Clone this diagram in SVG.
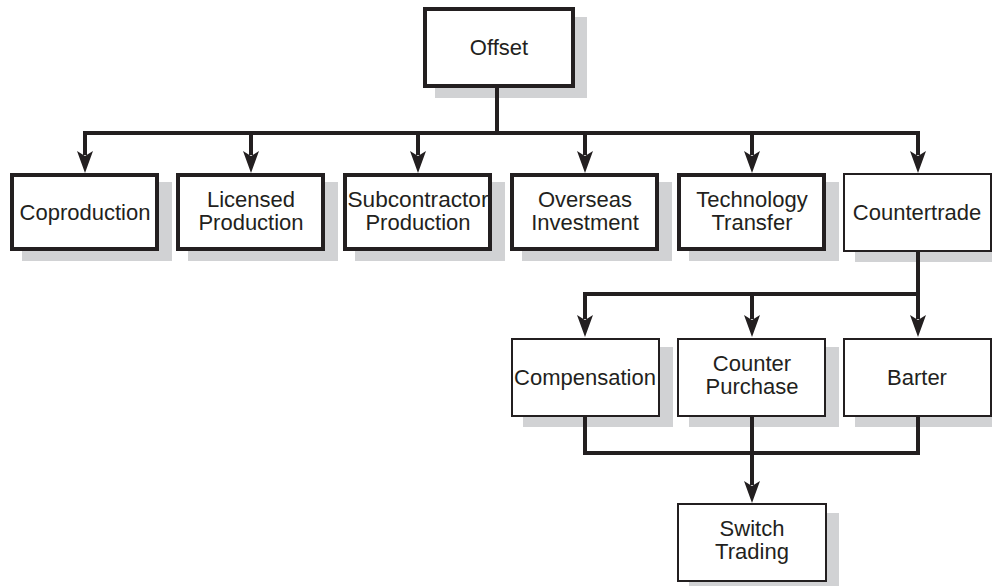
<svg xmlns="http://www.w3.org/2000/svg" width="992" height="586" viewBox="0 0 992 586">
<style>
.sh{fill:#d1d2d4}
.bx{fill:#fff;stroke:#231f20}
.tk{stroke-width:4}
.tn{stroke-width:2}
text{font-family:"Liberation Sans",Arial,sans-serif;font-size:22px;fill:#231f20;text-anchor:middle}
.cn{fill:none;stroke:#231f20;stroke-width:4;stroke-linejoin:miter;stroke-linecap:butt}
</style>
<defs>
<marker id="ah" markerUnits="userSpaceOnUse" markerWidth="26" markerHeight="20" viewBox="0 -10 26 20" refX="4" refY="0" orient="auto">
<path d="M22,0 L0,-8 L5,0 L0,8 Z" fill="#231f20"/>
</marker>
</defs>
<rect width="992" height="586" fill="#fff"/>

<g id="offset">
<rect class="sh" x="435" y="17" width="152" height="81"/>
<rect class="bx tk" x="425" y="9" width="148" height="77"/>
<text x="499" y="55">Offset</text>
</g>

<g id="coproduction">
<rect class="sh" x="22" y="182" width="150" height="79"/>
<rect class="bx tk" x="12" y="175" width="145" height="74"/>
<text x="85" y="220">Coproduction</text>
</g>
<g id="licensed">
<rect class="sh" x="188" y="182" width="150" height="79"/>
<rect class="bx tk" x="178" y="175" width="145" height="74"/>
<text x="251" y="207">Licensed</text>
<text x="251" y="230">Production</text>
</g>
<g id="subcontractor">
<rect class="sh" x="355" y="182" width="150" height="79"/>
<rect class="bx tk" x="345" y="175" width="145" height="74"/>
<text x="418" y="207" textLength="141" lengthAdjust="spacingAndGlyphs">Subcontractor</text>
<text x="418" y="230">Production</text>
</g>
<g id="overseas">
<rect class="sh" x="522" y="182" width="150" height="79"/>
<rect class="bx tk" x="512" y="175" width="145" height="74"/>
<text x="585" y="207">Overseas</text>
<text x="585" y="230">Investment</text>
</g>
<g id="technology">
<rect class="sh" x="689" y="182" width="150" height="79"/>
<rect class="bx tk" x="679" y="175" width="145" height="74"/>
<text x="752" y="207">Technology</text>
<text x="752" y="230">Transfer</text>
</g>
<g id="countertrade">
<rect class="sh" x="855" y="183" width="150" height="79"/>
<rect class="bx tn" x="844" y="174" width="147" height="77"/>
<text x="917" y="220">Countertrade</text>
</g>

<g id="compensation">
<rect class="sh" x="523" y="347" width="150" height="80"/>
<rect class="bx tn" x="512" y="339" width="147" height="77"/>
<text x="585" y="385">Compensation</text>
</g>
<g id="counterpurchase">
<rect class="sh" x="689" y="347" width="150" height="80"/>
<rect class="bx tn" x="678" y="339" width="147" height="77"/>
<text x="752" y="371">Counter</text>
<text x="752" y="394">Purchase</text>
</g>
<g id="barter">
<rect class="sh" x="855" y="347" width="150" height="80"/>
<rect class="bx tn" x="844" y="339" width="147" height="77"/>
<text x="917" y="385">Barter</text>
</g>

<g id="switchtrading">
<rect class="sh" x="689" y="513" width="150" height="80"/>
<rect class="bx tn" x="678" y="504" width="148" height="77"/>
<text x="752" y="536">Switch</text>
<text x="752" y="559">Trading</text>
</g>

<g id="connectors">
<path class="cn" d="M497 88 V133"/>
<path class="cn" d="M85 155 V133 H918 V155"/>
<path class="cn" d="M85 133 V155" marker-end="url(#ah)"/>
<path class="cn" d="M251 133 V155" marker-end="url(#ah)"/>
<path class="cn" d="M418 133 V155" marker-end="url(#ah)"/>
<path class="cn" d="M585 133 V155" marker-end="url(#ah)"/>
<path class="cn" d="M752 133 V155" marker-end="url(#ah)"/>
<path class="cn" d="M918 133 V155" marker-end="url(#ah)"/>
<path class="cn" d="M918 252 V294 H585 V319"/>
<path class="cn" d="M585 294 V319" marker-end="url(#ah)"/>
<path class="cn" d="M752 294 V319" marker-end="url(#ah)"/>
<path class="cn" d="M918 294 V319" marker-end="url(#ah)"/>
<path class="cn" d="M585 417 V453 H918 V417"/>
<path class="cn" d="M752 417 V485" marker-end="url(#ah)"/>
</g>
</svg>
